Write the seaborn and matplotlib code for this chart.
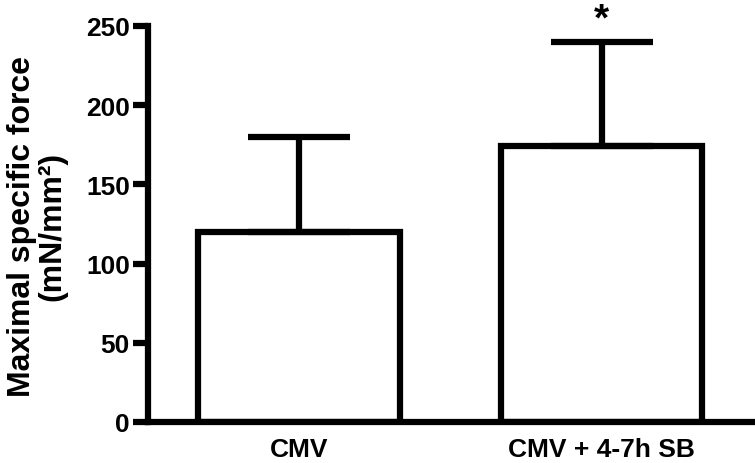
import matplotlib
matplotlib.use("Agg")
import matplotlib.pyplot as plt
import seaborn as sns
import pandas as pd

groups = ["CMV", "CMV + 4-7h SB"]
means = [120, 174]
sems = [60, 66]

sns.set_style("ticks", {"axes.edgecolor": "black", "text.color": "black",
                        "xtick.color": "black", "ytick.color": "black",
                        "axes.labelcolor": "black"})
plt.rcParams["font.family"] = ["Liberation Sans", "DejaVu Sans"]
plt.rcParams["font.weight"] = "bold"

df = pd.DataFrame({"group": groups, "force": means})

fig = plt.figure(figsize=(7.55, 4.64), dpi=100)
ax = fig.add_axes([0.196, 0.0884, 0.801, 0.8536])

lw = 4.5
sns.barplot(data=df, x="group", y="force", order=groups, color="white",
            edgecolor="black", linewidth=lw, width=0.667, errorbar=None, ax=ax)
ax.errorbar(range(len(groups)), means, yerr=[[0] * len(sems), sems], fmt="none",
            ecolor="black", elinewidth=lw, capsize=37, capthick=lw, zorder=1)

ax.set_xlim(-0.5, 1.5)
ax.set_ylim(0, 250)
ax.set_yticks([0, 50, 100, 150, 200, 250])
ax.tick_params(axis="y", length=11, width=lw, labelsize=19, pad=2)
ax.tick_params(axis="x", length=0, labelsize=19, pad=11)
for lab in ax.get_xticklabels() + ax.get_yticklabels():
    lab.set_fontweight("bold")

sns.despine(ax=ax)
ax.spines["left"].set_linewidth(lw)
ax.spines["bottom"].set_linewidth(lw)

ax.set_xlabel("")
ax.set_ylabel("Maximal specific force\n(mN/mm²)", fontsize=23, fontweight="bold",
              linespacing=1.0)
ax.yaxis.set_label_coords(-0.134, 0.497)

ax.text(1, 254, "*", ha="center", va="center", fontsize=28, fontweight="bold", clip_on=False)

fig.savefig("out.png", dpi=100)
